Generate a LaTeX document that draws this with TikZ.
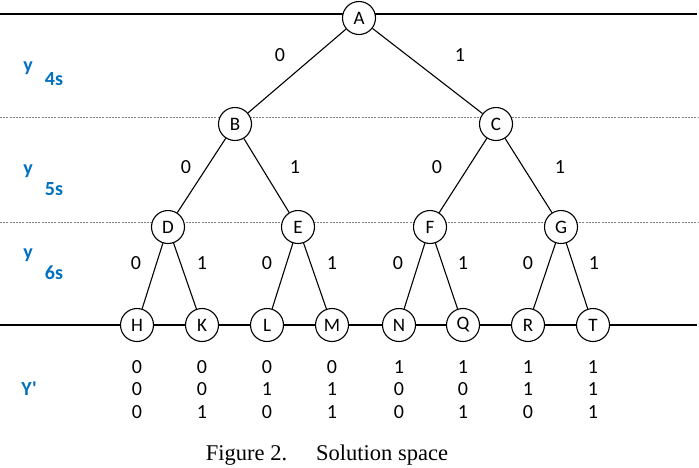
\documentclass[tikz,border=0pt]{standalone}
\usepackage{fontspec}
\setmainfont{Carlito}
\newfontfamily\plainfont{Carlito}[Ligatures=TeXOff]
\newfontfamily\capfont{Liberation Serif}
\usetikzlibrary{backgrounds}
\definecolor{lblue}{RGB}{0,112,192}
\begin{document}
\begin{tikzpicture}[x=1pt,y=-1pt,
  st/.style={circle,draw,line width=1.1pt,fill=white,minimum size=33pt,inner sep=0pt,font=\fontsize{19}{19}\selectfont},
  bit/.style={font=\fontsize{20}{20}\selectfont,inner sep=0pt},
  blu/.style={text=lblue,font=\plainfont\fontsize{20}{20}\selectfont\bfseries,inner sep=0pt},
  conn/.style={line width=1.1pt},
  guide/.style={gray,line width=0.6pt,dash pattern=on 2pt off 1.2pt}]
\useasboundingbox (0,0) rectangle (699,467);
% tree nodes
\node[st] (A) at (359,18) {A};
\node[st] (B) at (235,124) {B};
\node[st] (C) at (496,124) {C};
\node[st] (D) at (168,227) {D};
\node[st] (E) at (298,227) {E};
\node[st] (F) at (430,227) {F};
\node[st] (G) at (561,227) {G};
\node[st] (H) at (137,325) {H};
\node[st] (K) at (202,325) {K};
\node[st] (L) at (267,325) {L};
\node[st] (M) at (332,325) {M};
\node[st] (N) at (399,325) {N};
\node[st] (Q) at (463,325) {Q};
\node[st] (R) at (528,325) {R};
\node[st] (T) at (593,325) {T};
% guide lines
\coordinate (t0) at (0,14); \coordinate (t1) at (697,14);
\coordinate (d0) at (0,117); \coordinate (d1) at (699,117);
\coordinate (e0) at (0,222); \coordinate (e1) at (699,222);
\coordinate (b0) at (0,325); \coordinate (b1) at (697,325);
\begin{scope}[on background layer]
\draw[conn] (t0) -- (t1);
\draw[guide] (d0) -- (d1);
\draw[guide] (e0) -- (e1);
\draw[conn] (b0) -- (b1);
\end{scope}
% connectors
\draw[conn] (A) -- (B);
\draw[conn] (A) -- (C);
\draw[conn] (B) -- (D);
\draw[conn] (B) -- (E);
\draw[conn] (C) -- (F);
\draw[conn] (C) -- (G);
\draw[conn] (D) -- (H);
\draw[conn] (D) -- (K);
\draw[conn] (E) -- (L);
\draw[conn] (E) -- (M);
\draw[conn] (F) -- (N);
\draw[conn] (F) -- (Q);
\draw[conn] (G) -- (R);
\draw[conn] (G) -- (T);
% edge labels
\node[bit] (lAB) at (280,55) {0};
\node[bit] (lAC) at (460,55) {1};
\node[bit] (lBD) at (186,167) {0};
\node[bit] (lBE) at (295,167) {1};
\node[bit] (lCF) at (437,167) {0};
\node[bit] (lCG) at (560,167) {1};
\node[bit] (lDH) at (136,263) {0};
\node[bit] (lDK) at (202,263) {1};
\node[bit] (lEL) at (267,263) {0};
\node[bit] (lEM) at (332,263) {1};
\node[bit] (lFN) at (398,263) {0};
\node[bit] (lFQ) at (463,263) {1};
\node[bit] (lGR) at (528,263) {0};
\node[bit] (lGT) at (594,263) {1};
% level labels
\node[blu] (y4) at (28,68) {y};
\node[blu] (s4) at (54,79) {4s};
\node[blu] (y5) at (28,171) {y};
\node[blu] (s5) at (54,189) {5s};
\node[blu] (y6) at (28,255) {y};
\node[blu] (s6) at (54,273) {6s};
\node[blu] (yp) at (29,389) {Y'};
% solution bits
\foreach \x/\a/\b/\c [count=\i] in {137/0/0/0,202/0/0/1,267/0/1/0,332/0/1/1,399/1/0/0,463/1/0/1,528/1/1/0,593/1/1/1}{
  \node[bit] (r1c\i) at (\x,367) {\a};
  \node[bit] (r2c\i) at (\x,389) {\b};
  \node[bit] (r3c\i) at (\x,412) {\c};
}
\node[font=\capfont\fontsize{22.5}{22.5}\selectfont,inner sep=0pt] (cap) at (327,455) {Figure 2.\hspace{29pt}Solution space};
\end{tikzpicture}
\end{document}
